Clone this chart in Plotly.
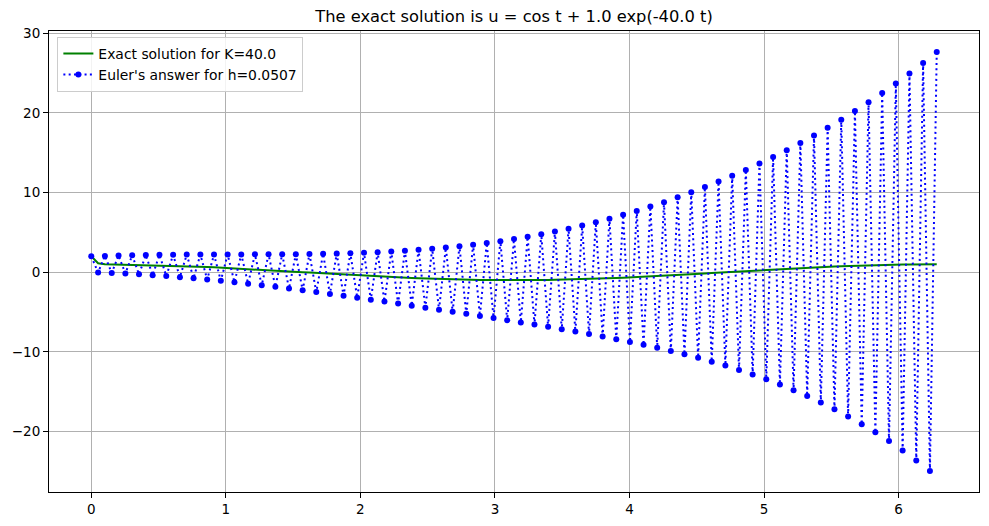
import numpy as np
import plotly.graph_objects as go

# Time grid: 125 samples from 0 to 2*pi (step h ~ 0.0507)
t = np.linspace(0.0, 6.2832, 125)

exact_u = [
    2.00, 1.13, 1.01, 0.99, 0.98, 0.968, 0.954, 0.938, 0.919, 0.898, 0.874, 0.849, 0.821, 0.791, 0.759, 0.725,
    0.689, 0.652, 0.612, 0.571, 0.529, 0.485, 0.440, 0.394, 0.347, 0.299, 0.251, 0.201, 0.151, 0.101, 0.051, 0.000,
    -0.051, -0.101, -0.151, -0.201, -0.251, -0.299, -0.347, -0.394, -0.440, -0.485, -0.529, -0.571, -0.612, -0.652,
    -0.689, -0.725, -0.759, -0.791, -0.821, -0.849, -0.874, -0.898, -0.919, -0.938, -0.954, -0.968, -0.980, -0.988,
    -0.995, -0.999, -1.000,
    -0.999, -0.995, -0.988, -0.980, -0.968, -0.954, -0.938, -0.919, -0.898, -0.874, -0.849, -0.821, -0.791, -0.759,
    -0.725, -0.689, -0.652, -0.612, -0.571, -0.529, -0.485, -0.440, -0.394, -0.347, -0.299, -0.251, -0.201, -0.151,
    -0.101, -0.051, 0.000,
    0.051, 0.101, 0.151, 0.201, 0.251, 0.299, 0.347, 0.394, 0.440, 0.485, 0.529, 0.571, 0.612, 0.652, 0.689, 0.725,
    0.759, 0.791, 0.821, 0.849, 0.874, 0.898, 0.919, 0.938, 0.954, 0.968, 0.980, 0.988, 0.995, 0.999, 1.000,
]

euler_u = [
    2.00, -0.03, 2.05, -0.09, 2.09, -0.17, 2.13, -0.27, 2.15, -0.37,
    2.18, -0.49, 2.19, -0.62, 2.21, -0.76, 2.22, -0.92, 2.22, -1.08,
    2.23, -1.26, 2.23, -1.44, 2.24, -1.64, 2.24, -1.84, 2.25, -2.05,
    2.26, -2.27, 2.28, -2.50, 2.31, -2.73, 2.34, -2.96, 2.39, -3.20,
    2.44, -3.45, 2.51, -3.69, 2.59, -3.94, 2.69, -4.20, 2.81, -4.45,
    2.94, -4.71, 3.09, -4.97, 3.26, -5.23, 3.45, -5.49, 3.67, -5.76,
    3.90, -6.03, 4.16, -6.30, 4.45, -6.58, 4.76, -6.86, 5.10, -7.15,
    5.46, -7.45, 5.85, -7.76, 6.27, -8.08, 6.72, -8.41, 7.20, -8.75,
    7.70, -9.11, 8.24, -9.49, 8.80, -9.89, 9.40, -10.31, 10.03, -10.75,
    10.69, -11.23, 11.38, -11.73, 12.10, -12.27, 12.85, -12.84, 13.64, -13.45,
    14.47, -14.11, 15.33, -14.81, 16.23, -15.55, 17.17, -16.35, 18.14, -17.20,
    19.16, -18.11, 20.23, -19.08, 21.33, -20.11, 22.49, -21.21, 23.70, -22.39,
    24.96, -23.64, 26.28, -24.97, 27.66,
]

x_ticks = [0, 1, 2, 3, 4, 5, 6]
y_ticks = [-20, -10, 0, 10, 20, 30]

fig = go.Figure()
fig.add_trace(go.Scatter(
    x=t, y=exact_u, mode="lines", name="Exact solution for K=40.0",
    line=dict(color="#008000", width=2),
))
fig.add_trace(go.Scatter(
    x=t, y=euler_u, mode="lines+markers", name="Euler's answer for h=0.0507",
    line=dict(color="#0000ff", width=2, dash="2px,3.3px"),
    marker=dict(color="#0000ff", size=6),
))

fig.update_layout(
    width=989, height=526,
    margin=dict(l=49, r=10, t=31, b=34),
    paper_bgcolor="white", plot_bgcolor="white",
    font=dict(family="DejaVu Sans", size=13.9, color="black"),
    title=dict(text="The exact solution is u = cos t + 1.0 exp(-40.0 t)",
               x=0.5, xref="paper", xanchor="center",
               y=1 - 16 / 526, yref="container", yanchor="middle",
               font=dict(size=16.3, family="DejaVu Sans", color="black")),
    showlegend=True,
    legend=dict(x=0.009, y=0.987, xanchor="left", yanchor="top",
                bgcolor="rgba(255,255,255,0.85)", bordercolor="#cccccc", borderwidth=1,
                font=dict(size=13.9, family="DejaVu Sans"), tracegroupgap=0),
)
fig.update_xaxes(
    range=[-0.3142, 6.5973], tickvals=x_ticks, ticks="outside", ticklen=5, tickwidth=1,
    tickcolor="black", showline=True, linecolor="black", linewidth=1, mirror=True,
    showgrid=True, gridcolor="#b0b0b0", gridwidth=1, zeroline=False,
    tickfont=dict(size=13.5),
)
fig.update_yaxes(
    range=[-27.6, 30.29], tickvals=y_ticks, ticks="outside", ticklen=5, tickwidth=1,
    tickcolor="black", showline=True, linecolor="black", linewidth=1, mirror=True,
    showgrid=True, gridcolor="#b0b0b0", gridwidth=1, zeroline=False,
    tickfont=dict(size=13.5),
)

fig.write_html("out.html")
